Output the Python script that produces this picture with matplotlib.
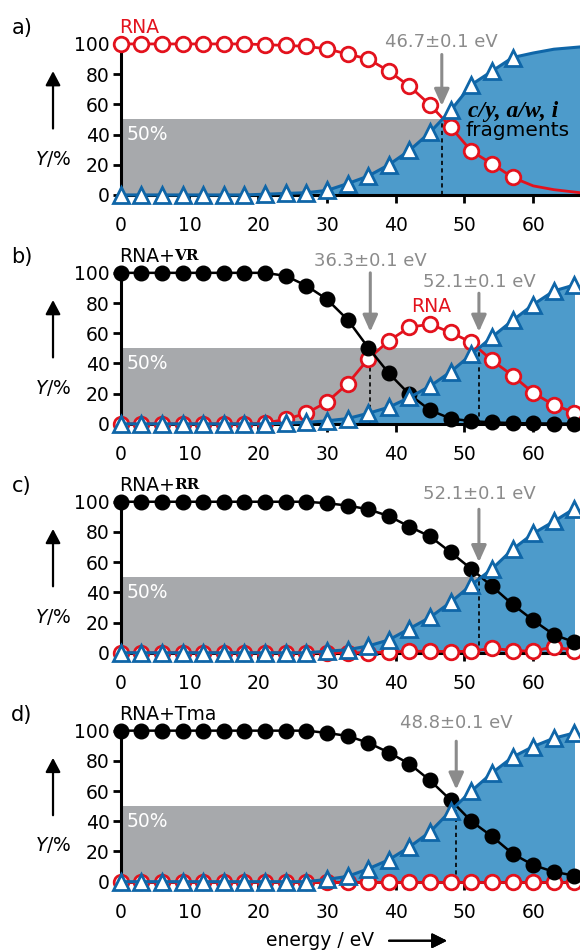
"""
Breakdown curves: survival yield of RNA / RNA complexes and the c/y, a/w, i
fragment yield versus collision energy, four stacked panels a)-d).
"""

import matplotlib
matplotlib.use("Agg")
import matplotlib.pyplot as plt
from matplotlib.transforms import blended_transform_factory

# ---------------------------------------------------------------- data
ENERGY_A = [0, 3, 6, 9, 12, 15, 18, 21, 24, 27, 30, 33, 36, 39, 42, 45, 48, 51, 54, 57]
ENERGY = [0, 3, 6, 9, 12, 15, 18, 21, 24, 27, 30, 33, 36, 39, 42, 45, 48, 51, 54, 57, 60, 63, 66]

# panel a: free RNA
A_RNA = [100, 100, 100, 100, 100, 100, 100, 99.5, 99, 98.4, 96.7, 93.3, 90, 82, 72, 59.6, 45, 29, 20.7, 11.6]
A_FRAG = [0, 0, 0, 0, 0, 0, 0, 0.5, 1, 1.5, 3, 7.5, 12.5, 20, 29.5, 41.5, 56, 73, 82, 91]
# fitted curves continue past the last measured point
A_FIT_E = [60, 63, 66.8]
A_RNA_FIT = [6, 3.5, 1.5]
A_FRAG_FIT = [94, 96.5, 98]

# panel b: RNA + VR
B_COMPLEX = [100, 100, 100, 100, 100, 100, 100, 100, 98, 91.5, 82.5, 69, 50.5, 33.5, 19.5, 9, 3.5, 1.8, 1, 0.5, 0.3, 0.2, 0.1]
B_RNA = [0, 0, 0, 0, 0, 0, 0, 0.5, 3, 7, 14.5, 26.5, 43, 55, 64, 66, 60.5, 54, 42, 32, 20.5, 12.5, 7.5]
B_FRAG = [0, 0, 0, 0, 0, 0, 0, 0, 0.5, 1, 2, 3.5, 7, 11, 17.5, 25, 34.5, 46, 57.5, 68.5, 79, 88, 92]

# panel c: RNA + RR
C_COMPLEX = [100, 100, 100, 100, 100, 100, 100, 100, 100, 100, 99, 97.5, 95, 90.5, 83.5, 77, 66.5, 55.5, 44, 32, 21.5, 12, 7]
C_RNA = [0, 0, 0, 0, 0, 0, 0, 0, 0, 0, 0, 0, 0, 0.5, 1, 1, 0.8, 1, 3, 1.5, 1, 4, 1.5]
C_FRAG = [0, 0, 0, 0, 0, 0, 0, 0, 0, 0, 1, 2, 4.5, 8.5, 16, 23.5, 33.5, 45, 55.5, 68.5, 79, 87, 95.5]

# panel d: RNA + Tma
D_COMPLEX = [100, 100, 100, 100, 100, 100, 100, 100, 100, 100, 98.5, 96.5, 92, 85.5, 78, 67, 54, 40, 30, 18.5, 11, 6.5, 4]
D_RNA = [0, 0, 0, 0, 0, 0, 0, 0, 0, 0, 0, 0, 0, 0, 0, 0, 0, 0, 0, 0, 0, 0, 0]
D_FRAG = [0, 0, 0, 0, 0, 0, 0, 0, 0, 0, 1.5, 3.5, 8.5, 14.5, 23, 33, 47, 60, 72, 82.5, 89.5, 95, 98.5]

# 50 % energies: (value, label y, arrow top, arrow tip)
A_MARKS = [(46.7, 101, 93, 59)]
B_MARKS = [(36.3, 108, 100, 61), (52.1, 94, 86.5, 61)]
C_MARKS = [(52.1, 105, 95, 60)]
D_MARKS = [(48.8, 105, 93, 61)]

RED = "#e3121d"
BLUE_EDGE = "#0f66a8"
BLUE_FILL = "#4d9bcb"
GREY_BOX = "#a7a9ac"
GREY_TXT = "#8b8b8b"

FS = 13.5
plt.rcParams["font.family"] = ["DejaVu Sans"]
plt.rcParams["mathtext.fontset"] = "dejavusans"

fig = plt.figure(figsize=(5.8, 9.51), dpi=100)
LEFT, WIDTH, HEIGHT = 0.2081, 0.7919, 0.1588
BOTTOMS = [0.795, 0.5543, 0.3136, 0.0729]
XMAX = 66.8


def setup_axes(ax, letter):
    ax.set_xlim(0, XMAX)
    ax.set_ylim(0, 100)
    for side in ("top", "right"):
        ax.spines[side].set_visible(False)
    for side in ("left", "bottom"):
        ax.spines[side].set_linewidth(2.2)
    ax.set_xticks([0, 10, 20, 30, 40, 50, 60])
    ax.set_yticks([0, 20, 40, 60, 80, 100])
    ax.tick_params(axis="both", width=2, length=6, labelsize=FS)
    ax.tick_params(axis="x", pad=9)
    ax.tick_params(axis="y", pad=2)

    trans = blended_transform_factory(fig.transFigure, ax.transData)
    ax.text(0.0374, 110.5, letter, transform=trans, fontsize=15,
            ha="center", va="center")
    ax.annotate("", xy=(0.0914, 82), xytext=(0.0914, 44),
                xycoords=trans, textcoords=trans,
                arrowprops=dict(arrowstyle="-|>,head_width=0.45,head_length=0.85",
                                color="black", lw=1.6, mutation_scale=10,
                                shrinkA=0, shrinkB=0))
    ax.text(0.0914, 24, r"$Y$/%", transform=trans, fontsize=FS,
            ha="center", va="center")


def draw_marks(ax, marks):
    last = marks[-1][0]
    ax.fill_between([0, last], 0, 50, color=GREY_BOX, lw=0, zorder=0.5)
    ax.text(0.8, 40, "50%", color="white", fontsize=FS, ha="left", va="center", zorder=0.6)
    for value, label_y, top, tip in marks:
        ax.plot([value, value], [0, 50], color="black", lw=1.2,
                linestyle=(0, (2.5, 2)), zorder=2)
        ax.annotate("", xy=(value, tip), xytext=(value, top),
                    arrowprops=dict(arrowstyle="-|>,head_width=0.45,head_length=1.0",
                                    color=GREY_TXT, lw=2.2, mutation_scale=10,
                                    shrinkA=0, shrinkB=0),
                    annotation_clip=False)
        ax.text(value, label_y, f"{value}±0.1 eV", color=GREY_TXT, fontsize=13,
                ha="center", va="center")


def draw_series(ax, x, rna, frag, complex_=None, x_fit=None, rna_fit=None, frag_fit=None):
    x_line = list(x) + list(x_fit or [])
    rna_line = list(rna) + list(rna_fit or [])
    frag_line = list(frag) + list(frag_fit or [])

    ax.fill_between(x_line, 0, frag_line, color=BLUE_FILL, lw=0, zorder=1)

    ax.plot(x_line, rna_line, color=RED, lw=2, zorder=3, clip_on=False)
    ax.plot(x, rna, "o", ms=10.5, mfc="white", mec=RED, mew=2, zorder=3.1, clip_on=False)

    if complex_ is not None:
        ax.plot(x, complex_, color="black", lw=1.8, zorder=4, clip_on=False)
        ax.plot(x, complex_, "o", ms=10.5, mfc="black", mec="black", zorder=4.1, clip_on=False)

    ax.plot(x_line, frag_line, color=BLUE_EDGE, lw=2.2, zorder=5, clip_on=False)
    ax.plot(x, frag, "^", ms=11, mfc="white", mec=BLUE_EDGE, mew=2, zorder=5.1, clip_on=False)


def complex_label(ax, ligand, serif):
    t = ax.text(-0.3, 111, "RNA+" if serif else "RNA+" + ligand, fontsize=FS,
                ha="left", va="center")
    if serif:
        ax.annotate(ligand, xy=(1, 0.12), xycoords=t, fontsize=11,
                    fontfamily="DejaVu Serif", fontweight="bold",
                    ha="left", va="bottom")


axes = [fig.add_axes([LEFT, b, WIDTH, HEIGHT]) for b in BOTTOMS]

# a)
ax = axes[0]
setup_axes(ax, "a)")
draw_marks(ax, A_MARKS)
draw_series(ax, ENERGY_A, A_RNA, A_FRAG, x_fit=A_FIT_E, rna_fit=A_RNA_FIT, frag_fit=A_FRAG_FIT)
ax.text(-0.3, 111, "RNA", color=RED, fontsize=FS, ha="left", va="center")
ax.text(50.5, 55.5, "c/y, a/w, i", fontsize=17, fontfamily="Liberation Serif",
        fontweight="bold", fontstyle="italic", ha="left", va="center", zorder=6)
ax.text(50.2, 42.5, "fragments", fontsize=14.5, ha="left", va="center", zorder=6)

# b)
ax = axes[1]
setup_axes(ax, "b)")
draw_marks(ax, B_MARKS)
draw_series(ax, ENERGY, B_RNA, B_FRAG, complex_=B_COMPLEX)
complex_label(ax, "VR", True)
ax.text(45.2, 77.5, "RNA", color=RED, fontsize=FS, ha="center", va="center")

# c)
ax = axes[2]
setup_axes(ax, "c)")
draw_marks(ax, C_MARKS)
draw_series(ax, ENERGY, C_RNA, C_FRAG, complex_=C_COMPLEX)
complex_label(ax, "RR", True)

# d)
ax = axes[3]
setup_axes(ax, "d)")
draw_marks(ax, D_MARKS)
draw_series(ax, ENERGY, D_RNA, D_FRAG, complex_=D_COMPLEX)
complex_label(ax, "Tma", False)

fig.text(0.552, 0.0108, "energy / eV", fontsize=FS, ha="center", va="center")
fig.add_artist(plt.annotate("", xy=(0.7707, 0.0108), xytext=(0.6707, 0.0108),
                            xycoords="figure fraction", textcoords="figure fraction",
                            arrowprops=dict(arrowstyle="-|>,head_width=0.45,head_length=0.9",
                                            color="black", lw=1.5, mutation_scale=10,
                                            shrinkA=0, shrinkB=0)))

fig.savefig("out.png", dpi=100)
